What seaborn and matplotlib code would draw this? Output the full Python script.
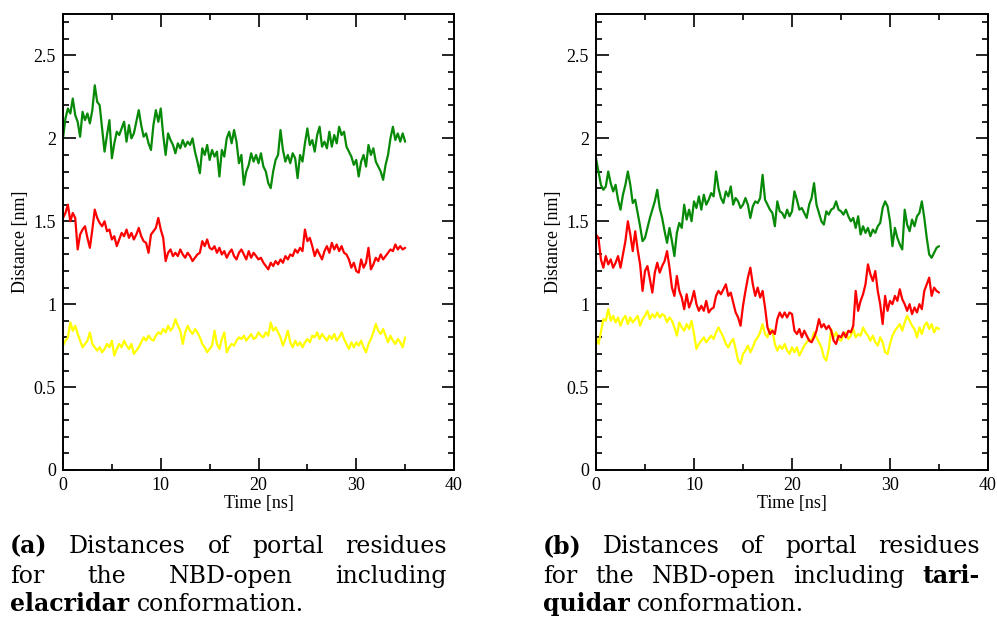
import numpy as np
import pandas as pd
import matplotlib
matplotlib.use("Agg")
import matplotlib.pyplot as plt
from matplotlib.ticker import MultipleLocator, FuncFormatter
import seaborn as sns

# Time axis: 0 .. 35 ns sampled every 0.25 ns
time_ns = np.arange(0, 35.0001, 0.25)

# (a) NBD-open with elacridar
elac_green = [
    2.00, 2.12, 2.18, 2.15, 2.24, 2.14, 2.10, 2.01, 2.16, 2.11, 2.15, 2.09, 2.17, 2.32, 2.22, 2.20,
    2.06, 1.92, 2.02, 2.11, 1.88, 1.97, 2.04, 2.02, 2.06, 2.10, 1.98, 2.08, 2.00, 2.03, 2.10, 2.17,
    2.08, 2.01, 2.03, 1.97, 1.93, 2.08, 2.17, 2.10, 2.18, 2.02, 1.90, 2.03, 1.99, 1.96, 1.91, 1.97,
    1.94, 1.99, 1.95, 1.98, 1.96, 2.00, 1.92, 1.86, 1.79, 1.94, 1.90, 1.96, 1.87, 1.93, 1.89, 1.92,
    1.77, 1.93, 1.89, 2.00, 2.04, 1.97, 2.05, 1.98, 1.85, 1.90, 1.72, 1.80, 1.84, 1.91, 1.86, 1.90,
    1.85, 1.91, 1.83, 1.80, 1.73, 1.70, 1.80, 1.87, 1.90, 2.05, 1.93, 1.86, 1.90, 1.85, 1.91, 1.88,
    1.76, 1.90, 1.86, 1.97, 2.06, 1.96, 1.99, 1.92, 2.02, 2.07, 1.95, 1.98, 1.94, 2.04, 1.95, 2.02,
    1.97, 2.07, 2.02, 2.04, 1.95, 1.92, 1.89, 1.84, 1.87, 1.77, 1.86, 1.90, 1.83, 1.96, 1.90, 1.94,
    1.86, 1.83, 1.80, 1.75, 1.84, 1.90, 2.00, 2.07, 1.99, 2.03, 1.98, 2.03, 1.98,
]
elac_red = [
    1.52, 1.55, 1.60, 1.50, 1.55, 1.52, 1.33, 1.42, 1.45, 1.47, 1.40, 1.34, 1.45, 1.57, 1.52, 1.49,
    1.47, 1.50, 1.44, 1.45, 1.39, 1.41, 1.35, 1.39, 1.43, 1.41, 1.45, 1.40, 1.43, 1.39, 1.42, 1.46,
    1.41, 1.38, 1.37, 1.31, 1.42, 1.44, 1.46, 1.52, 1.45, 1.40, 1.26, 1.31, 1.33, 1.29, 1.31, 1.29,
    1.33, 1.30, 1.28, 1.31, 1.29, 1.26, 1.28, 1.30, 1.31, 1.38, 1.35, 1.39, 1.34, 1.33, 1.35, 1.31,
    1.34, 1.30, 1.32, 1.28, 1.31, 1.33, 1.29, 1.27, 1.31, 1.33, 1.30, 1.27, 1.32, 1.28, 1.31, 1.29,
    1.27, 1.28, 1.25, 1.23, 1.21, 1.25, 1.23, 1.26, 1.24, 1.27, 1.25, 1.29, 1.27, 1.30, 1.29, 1.33,
    1.31, 1.34, 1.32, 1.45, 1.38, 1.40, 1.35, 1.29, 1.33, 1.30, 1.27, 1.32, 1.35, 1.31, 1.37, 1.33,
    1.36, 1.32, 1.35, 1.31, 1.30, 1.27, 1.22, 1.25, 1.20, 1.19, 1.27, 1.22, 1.25, 1.34, 1.21, 1.24,
    1.28, 1.26, 1.30, 1.27, 1.29, 1.31, 1.33, 1.32, 1.36, 1.33, 1.35, 1.33, 1.34,
]
elac_yellow = [
    0.75, 0.78, 0.80, 0.89, 0.84, 0.87, 0.82, 0.78, 0.74, 0.76, 0.78, 0.83, 0.76, 0.74, 0.72, 0.74,
    0.71, 0.73, 0.76, 0.74, 0.78, 0.69, 0.73, 0.76, 0.74, 0.78, 0.75, 0.73, 0.76, 0.70, 0.72, 0.74,
    0.77, 0.80, 0.78, 0.81, 0.79, 0.78, 0.81, 0.83, 0.82, 0.85, 0.83, 0.87, 0.84, 0.86, 0.91, 0.87,
    0.84, 0.76, 0.83, 0.87, 0.84, 0.82, 0.85, 0.83, 0.80, 0.76, 0.74, 0.71, 0.73, 0.75, 0.84, 0.76,
    0.73, 0.79, 0.83, 0.71, 0.74, 0.76, 0.75, 0.78, 0.80, 0.79, 0.81, 0.78, 0.80, 0.82, 0.79, 0.80,
    0.83, 0.81, 0.80, 0.83, 0.81, 0.89, 0.84, 0.86, 0.83, 0.80, 0.75, 0.79, 0.84, 0.77, 0.74, 0.78,
    0.75, 0.77, 0.74, 0.77, 0.79, 0.77, 0.81, 0.80, 0.83, 0.79, 0.82, 0.80, 0.78, 0.81, 0.79, 0.82,
    0.78, 0.80, 0.83, 0.79, 0.76, 0.73, 0.77, 0.74, 0.77, 0.75, 0.78, 0.74, 0.71, 0.76, 0.79, 0.83,
    0.88, 0.84, 0.82, 0.85, 0.81, 0.77, 0.81, 0.78, 0.76, 0.79, 0.77, 0.74, 0.80,
]

# (b) NBD-open with tariquidar
tari_green = [
    1.88, 1.80, 1.72, 1.69, 1.71, 1.80, 1.73, 1.68, 1.72, 1.63, 1.57, 1.66, 1.72, 1.80, 1.72, 1.61,
    1.63, 1.55, 1.47, 1.38, 1.40, 1.46, 1.52, 1.57, 1.62, 1.69, 1.58, 1.52, 1.44, 1.37, 1.46, 1.38,
    1.29, 1.43, 1.49, 1.46, 1.60, 1.51, 1.57, 1.50, 1.62, 1.58, 1.65, 1.57, 1.66, 1.60, 1.63, 1.67,
    1.65, 1.80, 1.70, 1.64, 1.61, 1.68, 1.65, 1.71, 1.60, 1.64, 1.62, 1.58, 1.60, 1.64, 1.60, 1.52,
    1.59, 1.62, 1.61, 1.64, 1.78, 1.63, 1.60, 1.57, 1.55, 1.47, 1.62, 1.56, 1.55, 1.52, 1.57, 1.53,
    1.56, 1.68, 1.63, 1.57, 1.58, 1.55, 1.52, 1.60, 1.64, 1.73, 1.60, 1.55, 1.50, 1.48, 1.56, 1.54,
    1.57, 1.58, 1.62, 1.57, 1.56, 1.54, 1.57, 1.53, 1.50, 1.52, 1.46, 1.53, 1.42, 1.47, 1.43, 1.46,
    1.41, 1.45, 1.43, 1.47, 1.49, 1.58, 1.62, 1.59, 1.50, 1.35, 1.46, 1.40, 1.36, 1.33, 1.57, 1.48,
    1.44, 1.51, 1.47, 1.53, 1.55, 1.62, 1.52, 1.40, 1.30, 1.28, 1.31, 1.34, 1.35,
]
tari_red = [
    1.42, 1.40, 1.27, 1.22, 1.29, 1.24, 1.27, 1.22, 1.25, 1.29, 1.22, 1.30, 1.38, 1.50, 1.42, 1.32,
    1.44, 1.33, 1.24, 1.08, 1.20, 1.23, 1.15, 1.07, 1.19, 1.25, 1.19, 1.23, 1.26, 1.32, 1.22, 1.10,
    1.05, 1.17, 1.08, 1.04, 0.97, 1.06, 0.98, 1.02, 1.08, 1.00, 0.96, 0.99, 0.96, 1.02, 0.95, 0.97,
    0.98, 1.05, 1.08, 1.06, 1.09, 1.12, 1.05, 1.07, 1.01, 0.95, 0.92, 0.87, 0.99, 1.08, 1.16, 1.22,
    1.12, 1.05, 1.10, 1.04, 1.08, 0.98, 0.86, 0.82, 0.84, 0.82, 0.91, 0.95, 0.92, 0.95, 0.92, 0.95,
    0.94, 0.84, 0.82, 0.85, 0.80, 0.84, 0.81, 0.78, 0.77, 0.80, 0.84, 0.91, 0.86, 0.88, 0.85, 0.87,
    0.84, 0.78, 0.76, 0.81, 0.80, 0.83, 0.80, 0.84, 0.83, 0.87, 1.08, 0.96, 1.02, 1.06, 1.12, 1.24,
    1.18, 1.14, 1.20, 1.08, 1.00, 0.88, 1.05, 0.96, 1.02, 1.00, 1.05, 1.02, 1.09, 1.03, 1.00, 0.96,
    1.00, 0.94, 0.98, 0.95, 1.00, 0.97, 1.08, 1.12, 1.16, 1.05, 1.10, 1.08, 1.07,
]
tari_yellow = [
    0.80, 0.76, 0.83, 0.91, 0.90, 0.97, 0.90, 0.93, 0.89, 0.92, 0.87, 0.91, 0.93, 0.88, 0.92, 0.89,
    0.91, 0.93, 0.87, 0.91, 0.93, 0.96, 0.91, 0.94, 0.92, 0.95, 0.92, 0.94, 0.93, 0.89, 0.92, 0.90,
    0.86, 0.81, 0.89, 0.86, 0.84, 0.88, 0.85, 0.90, 0.82, 0.73, 0.76, 0.78, 0.80, 0.77, 0.79, 0.81,
    0.79, 0.83, 0.86, 0.83, 0.80, 0.76, 0.74, 0.77, 0.79, 0.73, 0.66, 0.64, 0.70, 0.72, 0.75, 0.71,
    0.74, 0.78, 0.80, 0.83, 0.88, 0.82, 0.80, 0.85, 0.84, 0.76, 0.72, 0.75, 0.73, 0.76, 0.72, 0.70,
    0.74, 0.71, 0.74, 0.69, 0.72, 0.75, 0.77, 0.79, 0.78, 0.83, 0.80, 0.77, 0.74, 0.68, 0.66, 0.73,
    0.85, 0.80, 0.83, 0.79, 0.78, 0.81, 0.83, 0.79, 0.81, 0.85, 0.80, 0.82, 0.81, 0.86, 0.83, 0.81,
    0.78, 0.81, 0.77, 0.75, 0.80, 0.77, 0.71, 0.70, 0.76, 0.81, 0.84, 0.86, 0.88, 0.84, 0.89, 0.93,
    0.90, 0.87, 0.85, 0.80, 0.86, 0.82, 0.87, 0.89, 0.85, 0.88, 0.83, 0.86, 0.85,
]

x_ticks = [0, 10, 20, 30, 40]
y_ticks = [0, 0.5, 1, 1.5, 2, 2.5]
x_label = "Time [ns]"
y_label = "Distance [nm]"

captions = {
    "a": [
        ([("(a)", True), ("Distances", False), ("of", False), ("portal", False), ("residues", False)], True),
        ([("for", False), ("the", False), ("NBD-open", False), ("including", False)], True),
        ([("elacridar", True), ("conformation.", False)], False),
    ],
    "b": [
        ([("(b)", True), ("Distances", False), ("of", False), ("portal", False), ("residues", False)], True),
        ([("for", False), ("the", False), ("NBD-open", False), ("including", False), ("tari-", True)], True),
        ([("quidar", True), ("conformation.", False)], False),
    ],
}

GREEN = "#078a07"
RED = "#ff0000"
YELLOW = "#ffff00"

sns.set_theme(style="ticks")
plt.rcParams["font.family"] = ["Liberation Serif", "DejaVu Serif"]

W, H = 997, 618
fig = plt.figure(figsize=(W / 100, H / 100), dpi=100)
fig.patch.set_facecolor("white")


def build_frame(series):
    parts = []
    for name, vals in series:
        parts.append(pd.DataFrame({"time": time_ns, "dist": vals, "pair": name}))
    return pd.concat(parts, ignore_index=True)


def draw_panel(ax, green, red, yellow):
    df = build_frame([("g", green), ("y", yellow), ("r", red)])
    sns.lineplot(data=df, x="time", y="dist", hue="pair",
                 palette={"g": GREEN, "y": YELLOW, "r": RED},
                 hue_order=["g", "y", "r"], linewidth=1.6, legend=False,
                 estimator=None, sort=False, ax=ax)
    ax.set_xlim(0, 40)
    ax.set_ylim(0, 2.75)
    ax.set_xticks(x_ticks)
    ax.set_yticks(y_ticks)
    ax.xaxis.set_minor_locator(MultipleLocator(5))
    ax.yaxis.set_minor_locator(MultipleLocator(0.1))
    fmt = FuncFormatter(lambda v, p: f"{v:g}")
    ax.xaxis.set_major_formatter(fmt)
    ax.yaxis.set_major_formatter(fmt)
    ax.tick_params(which="both", direction="in", top=True, right=True,
                   width=1.2, color="black", labelsize=13, labelcolor="black")
    ax.tick_params(which="major", length=9)
    ax.tick_params(which="minor", length=4.5)
    ax.tick_params(axis="x", pad=5)
    ax.tick_params(axis="y", pad=5)
    for s in ax.spines.values():
        s.set_linewidth(1.4)
        s.set_color("black")
    ax.set_xlabel(x_label, fontsize=13, labelpad=1, color="black")
    ax.set_ylabel(y_label, fontsize=13, labelpad=3, color="black")
    ax.set_facecolor("white")


ax_a = fig.add_axes([63 / W, 1 - 470 / H, 391 / W, 456 / H])
ax_b = fig.add_axes([596 / W, 1 - 470 / H, 392 / W, 456 / H])
draw_panel(ax_a, elac_green, elac_red, elac_yellow)
draw_panel(ax_b, tari_green, tari_red, tari_yellow)

# Captions, set as justified paragraphs below each panel
CAP_FONT = ["DejaVu Serif"]
CAP_SIZE = 17
renderer = fig.canvas.get_renderer()


def text_width(s, bold):
    t = fig.text(0, 0, s, fontsize=CAP_SIZE, family=CAP_FONT,
                 fontweight="bold" if bold else "normal")
    w = t.get_window_extent(renderer).width
    t.remove()
    return w


space_w = text_width("n n", False) - text_width("nn", False)


def caption_block(lines, x0, x1, baselines):
    for (words, justify), yb in zip(lines, baselines):
        widths = [text_width(w, b) for w, b in words]
        if justify and len(words) > 1:
            gap = (x1 - x0 - sum(widths)) / (len(words) - 1)
        else:
            gap = space_w
        x = x0
        for (w, b), wd in zip(words, widths):
            fig.text(x / W, 1 - yb / H, w, fontsize=CAP_SIZE, family=CAP_FONT,
                     fontweight="bold" if b else "normal", color="black",
                     ha="left", va="baseline")
            x += wd + gap


caption_block(captions["a"], 10, 447, [553, 583, 611])
caption_block(captions["b"], 543, 980, [553, 583, 611])

fig.savefig("out.png", dpi=100, facecolor="white")
